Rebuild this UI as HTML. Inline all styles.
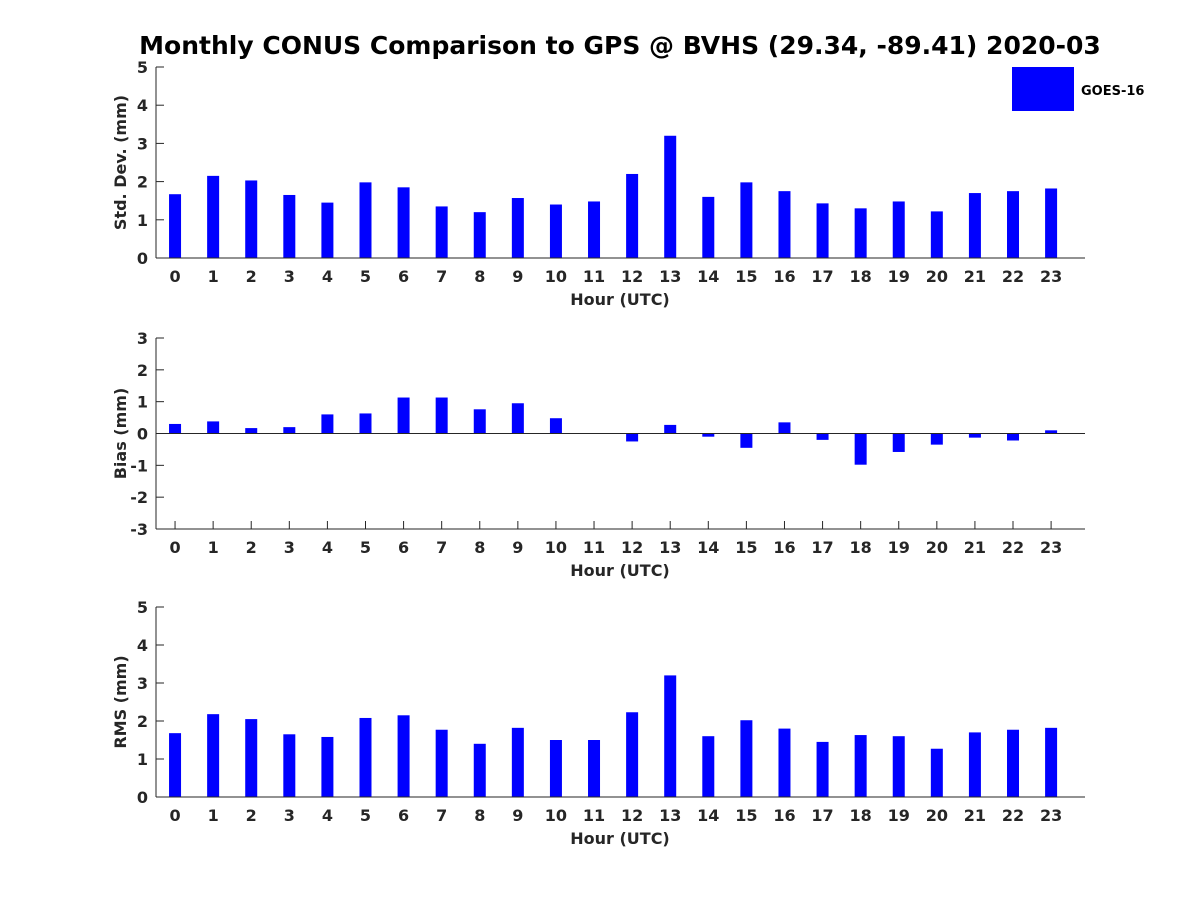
<!DOCTYPE html>
<html><head><meta charset="utf-8"><style>
body{margin:0;background:#fff}
svg text{font-family:"DejaVu Sans","Liberation Sans",sans-serif;font-weight:bold;fill:#262626}
</style></head><body>
<svg id="chart" width="1200" height="900" xmlns="http://www.w3.org/2000/svg">
<rect width="1200" height="900" fill="#fff"/>
<text x="620" y="54" font-size="25" text-anchor="middle" style="fill:#000">Monthly CONUS Comparison to GPS @ BVHS (29.34, -89.41) 2020-03</text>
<rect x="1012" y="67" width="62" height="44" fill="#0000ff"/>
<text x="1081" y="95" font-size="13" style="fill:#000">GOES-16</text>
</svg>
<script>
const hours = [0,1,2,3,4,5,6,7,8,9,10,11,12,13,14,15,16,17,18,19,20,21,22,23];
const stdValues = [1.67,2.15,2.03,1.65,1.45,1.98,1.85,1.35,1.2,1.57,1.4,1.48,2.2,3.2,1.6,1.98,1.75,1.43,1.3,1.48,1.22,1.7,1.75,1.82];
const biasValues = [0.3,0.38,0.17,0.2,0.6,0.63,1.13,1.13,0.76,0.95,0.48,0,-0.25,0.27,-0.1,-0.45,0.35,-0.2,-0.98,-0.58,-0.35,-0.13,-0.22,0.1];
const rmsValues = [1.68,2.18,2.05,1.65,1.58,2.08,2.15,1.77,1.4,1.82,1.5,1.5,2.23,3.2,1.6,2.02,1.8,1.45,1.63,1.6,1.27,1.7,1.77,1.82];
const stdTicks = [0,1,2,3,4,5];
const biasTicks = [-3,-2,-1,0,1,2,3];
const rmsTicks = [0,1,2,3,4,5];

const svg = document.getElementById('chart');
const NS = 'http://www.w3.org/2000/svg';
function mk(tag, attrs){const e=document.createElementNS(NS,tag);for(const k in attrs)e.setAttribute(k,attrs[k]);svg.appendChild(e);return e;}
const L=156,R=1085,x0=-0.5,x1=23.89;
const xs=v=>L+(v-x0)/(x1-x0)*(R-L);

function panel(name, top, bottom, ymin, ymax, ticks, values, ylabel){
  const ys=v=>bottom-(v-ymin)/(ymax-ymin)*(bottom-top);
  const base=ys(Math.max(ymin,0));
  ticks.forEach(t=>{
    const y=ys(t);
    mk('line',{x1:L,y1:y,x2:L+8,y2:y,stroke:'#262626'});
    const tx=mk('text',{x:L-8,y:y+6,'font-size':16,'text-anchor':'end'});
    tx.textContent=t;
    
    
  });
  hours.forEach(h=>{
    const x=xs(h);
    mk('line',{x1:x,y1:bottom,x2:x,y2:bottom-8,stroke:'#262626'});
    const tx=mk('text',{x:x,y:bottom+24,'font-size':16,'text-anchor':'middle'});
    tx.textContent=h;
    
    
  });
  values.forEach((v,i)=>{
    const y=ys(v);
    const b=mk('rect',{x:xs(hours[i])-6,y:Math.min(y,base),width:12,height:Math.abs(base-y),fill:'#0000ff'});
    
    
  });
  const ya=mk('line',{x1:L,y1:top,x2:L,y2:bottom,stroke:'#262626','stroke-width':1});
  
  
  const xa=mk('line',{x1:L,y1:bottom,x2:R,y2:bottom,stroke:'#262626','stroke-width':1});
  
  
  if(ymin<0){
    const z=mk('line',{x1:L,y1:base,x2:R,y2:base,stroke:'#262626','stroke-width':1});
    
    
  }
  const xl=mk('text',{x:620,y:bottom+47,'font-size':16,'text-anchor':'middle'});
  xl.textContent='Hour (UTC)';
  
  
  const cy=(top+bottom)/2;
  const yl=mk('text',{x:126,y:cy,'font-size':16,'text-anchor':'middle',transform:'rotate(-90 126 '+cy+')'});
  yl.textContent=ylabel;
  
  
}
panel('std-dev',67,258,0,5,stdTicks,stdValues,'Std. Dev. (mm)');
panel('bias',338,529,-3,3,biasTicks,biasValues,'Bias (mm)');
panel('rms',607,797,0,5,rmsTicks,rmsValues,'RMS (mm)');
</script>
</body></html>
